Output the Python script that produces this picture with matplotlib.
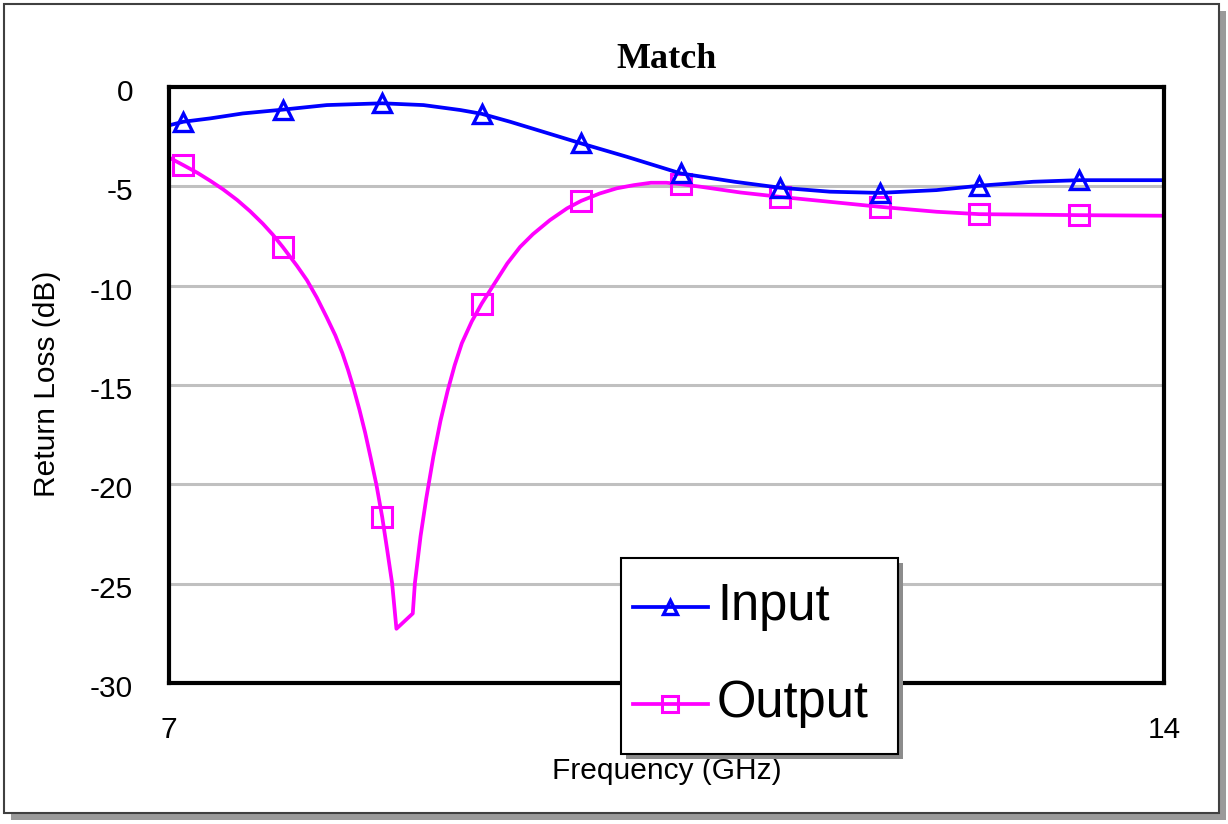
import numpy as np
import matplotlib
matplotlib.use("Agg")
import matplotlib.pyplot as plt
from matplotlib.patches import Rectangle
from matplotlib.lines import Line2D
from matplotlib.transforms import ScaledTranslation

# ---- data ----
freq_in = [7.00, 7.10, 7.29, 7.52, 7.80, 8.11, 8.50, 8.79, 9.05, 9.20, 9.40, 9.63,
           9.90, 10.22, 10.60, 10.98, 11.30, 11.65, 12.00, 12.40, 12.70, 13.08, 13.40, 14.00]
input_db = [-1.93, -1.75, -1.58, -1.33, -1.14, -0.91, -0.82, -0.91, -1.16, -1.35, -1.75, -2.25,
            -2.84, -3.51, -4.35, -4.77, -5.07, -5.27, -5.33, -5.19, -4.97, -4.77, -4.69, -4.69]

freq_out = [7.00, 7.10, 7.20, 7.29, 7.38, 7.48, 7.57, 7.66, 7.73, 7.80, 7.90, 7.97,
            8.04, 8.11, 8.17, 8.22, 8.26, 8.30, 8.34, 8.38, 8.42, 8.46, 8.50, 8.535,
            8.57, 8.60, 8.715, 8.73, 8.77, 8.81, 8.86, 8.91, 8.96, 9.01, 9.06, 9.13,
            9.20, 9.29, 9.38, 9.47, 9.56, 9.68, 9.80, 9.90, 10.03, 10.15, 10.27, 10.39,
            10.50, 10.60, 10.74, 11.02, 11.30, 11.65, 12.00, 12.40, 12.70, 13.40, 14.00]
output_db = [-3.55, -3.93, -4.32, -4.72, -5.15, -5.69, -6.25, -6.88, -7.43, -8.05, -9.00, -9.72,
             -10.60, -11.60, -12.50, -13.40, -14.25, -15.20, -16.25, -17.40, -18.70, -20.05, -21.65, -23.30,
             -25.00, -27.27, -26.50, -24.97, -22.60, -20.70, -18.60, -16.80, -15.30, -14.00, -12.90, -11.80,
             -10.90, -9.89, -8.88, -8.05, -7.41, -6.70, -6.11, -5.73, -5.36, -5.10, -4.94, -4.82,
             -4.82, -4.89, -5.02, -5.31, -5.53, -5.78, -6.03, -6.28, -6.40, -6.45, -6.48]

marker_freqs = [7.10, 7.80, 8.50, 9.20, 9.90, 10.60, 11.30, 12.00, 12.70, 13.40]

y_ticks = [0, -5, -10, -15, -20, -25, -30]
y_tick_labels = ["0", "-5", "-10", "-15", "-20", "-25", "-30"]
x_ticks = [7, 14]
x_tick_labels = ["7", "14"]
series_names = ["Input", "Output"]

W, H = 1228, 824
fig = plt.figure(figsize=(W / 100, H / 100), dpi=100)
fig.patch.set_facecolor("white")

def px(x0, y0, x1, y1):
    return (x0 / W, 1 - y1 / H, (x1 - x0) / W, (y1 - y0) / H)

def fx(x):
    return x / W

def fy(y):
    return 1 - y / H

# outer frame with shadow
sx, sy, sw, sh = px(11, 11, 1226, 820)
fig.patches.append(Rectangle((sx, sy), sw, sh, transform=fig.transFigure,
                             facecolor="#9a9a9a", edgecolor="none", zorder=-10))
bx, by, bw, bh = px(4, 4, 1219, 813)
fig.patches.append(Rectangle((bx, by), bw, bh, transform=fig.transFigure,
                             facecolor="white", edgecolor="#404040", lw=1.5, zorder=-9))

sans = ["Liberation Sans", "DejaVu Sans"]
serif = ["Liberation Serif", "DejaVu Serif"]

ax = fig.add_axes(px(169, 87, 1164, 683))
ax.set_facecolor("white")

fi = np.array(freq_in)
fo = np.array(freq_out)
mk_in = [int(np.argmin(np.abs(fi - f))) for f in marker_freqs]
mk_out = [int(np.argmin(np.abs(fo - f))) for f in marker_freqs]

BLUE = "#0000ff"
MAG = "#ff00ff"
in_style = dict(color=BLUE, lw=2.7, marker="^", ms=13, mfc="none", mec=BLUE, mew=2.4)
out_style = dict(color=MAG, lw=2.7, marker="s", ms=14, mfc="none", mec=MAG, mew=2.2)

ax.plot(freq_in, input_db, markevery=mk_in, label=series_names[0], zorder=4, **in_style)
ax.plot(freq_out, output_db, markevery=mk_out, label=series_names[1], zorder=3, **out_style)

ax.set_xlim(7, 14)
ax.set_ylim(-30, 0)
ax.set_yticks(y_ticks)
ax.set_yticklabels(y_tick_labels, family=sans, fontsize=21.5)
ax.set_xticks(x_ticks)
ax.set_xticklabels(x_tick_labels, family=sans, fontsize=21.5)
ax.tick_params(axis="both", length=0)
ax.tick_params(axis="y", pad=26)
ax.tick_params(axis="x", pad=24)
shift = ScaledTranslation(0, -3 / 100, fig.dpi_scale_trans)
for lab in ax.get_yticklabels():
    lab.set_transform(lab.get_transform() + shift)

ax.yaxis.grid(True, color="#c0c0c0", lw=2.2)
ax.xaxis.grid(False)
ax.set_axisbelow(True)
for s in ax.spines.values():
    s.set_color("black")
    s.set_linewidth(3)
    s.set_zorder(5)

ax.set_xlabel("Frequency (GHz)", family=sans, fontsize=21.5)
ax.xaxis.set_label_coords(0.5, -(757 - 683) / 596)

fig.text(fx(47), fy(384), "Return Loss (dB)", rotation=90, ha="center", va="center",
         family=sans, fontsize=21.5)
fig.text(fx(667), fy(59), "Match", ha="center", va="center", family=serif,
         fontweight="bold", fontsize=26)

# ---- legend box (drawn in figure pixels, over the axes) ----
lx, ly, lw_, lh = px(626, 563, 903, 759)
fig.patches.append(Rectangle((lx, ly), lw_, lh, transform=fig.transFigure,
                             facecolor="#8c8c8c", edgecolor="none", zorder=20))
lx, ly, lw_, lh = px(621, 558, 898, 754)
fig.patches.append(Rectangle((lx, ly), lw_, lh, transform=fig.transFigure,
                             facecolor="white", edgecolor="black", lw=1.5, zorder=21))
for name, style, row_y, base_y in [(series_names[0], in_style, 607, 620),
                                   (series_names[1], out_style, 704, 717)]:
    st = dict(style)
    fig.add_artist(Line2D([fx(633), fx(708)], [fy(row_y), fy(row_y)], transform=fig.transFigure,
                          color=st["color"], lw=st["lw"], zorder=22))
    fig.add_artist(Line2D([fx(670)], [fy(row_y)], transform=fig.transFigure, ls="none",
                          marker=st["marker"], ms=st["ms"] * 0.8, mfc="none", mec=st["mec"],
                          mew=st["mew"], zorder=23))
    fig.text(fx(717), fy(base_y), name, ha="left", va="baseline", family=sans,
             fontsize=36.5, zorder=24)

fig.savefig("out.png", dpi=100)
